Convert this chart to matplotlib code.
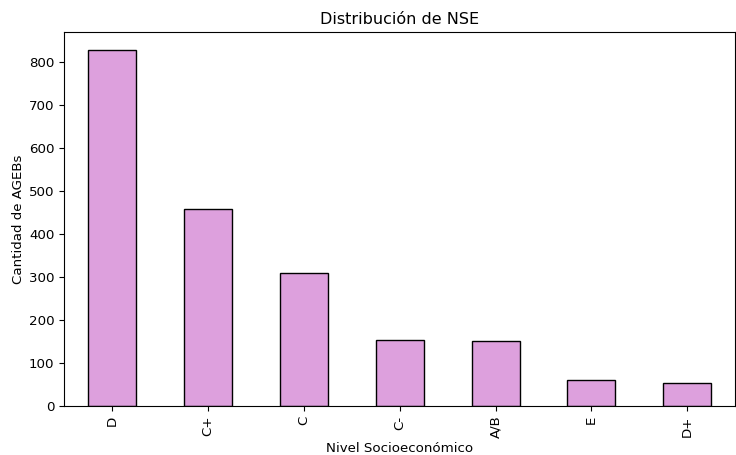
import pandas as pd
import matplotlib.pyplot as plt

categories = ['D', 'C+', 'C', 'C-', 'A/B', 'E', 'D+']
counts = [828, 457, 309, 154, 150, 60, 53]

plt.rcParams['font.size'] = 9.6

s = pd.Series(counts, index=categories)

fig, ax = plt.subplots(figsize=(7.36, 4.55), dpi=100)
s.plot(kind='bar', color='plum', edgecolor='black', ax=ax)
ax.set_title('Distribución de NSE')
ax.set_xlabel('Nivel Socioeconómico', labelpad=3)
ax.set_ylabel('Cantidad de AGEBs', labelpad=3)
fig.subplots_adjust(left=0.087, right=0.999, top=0.93, bottom=0.108)
fig.savefig('out.png', dpi=100)
